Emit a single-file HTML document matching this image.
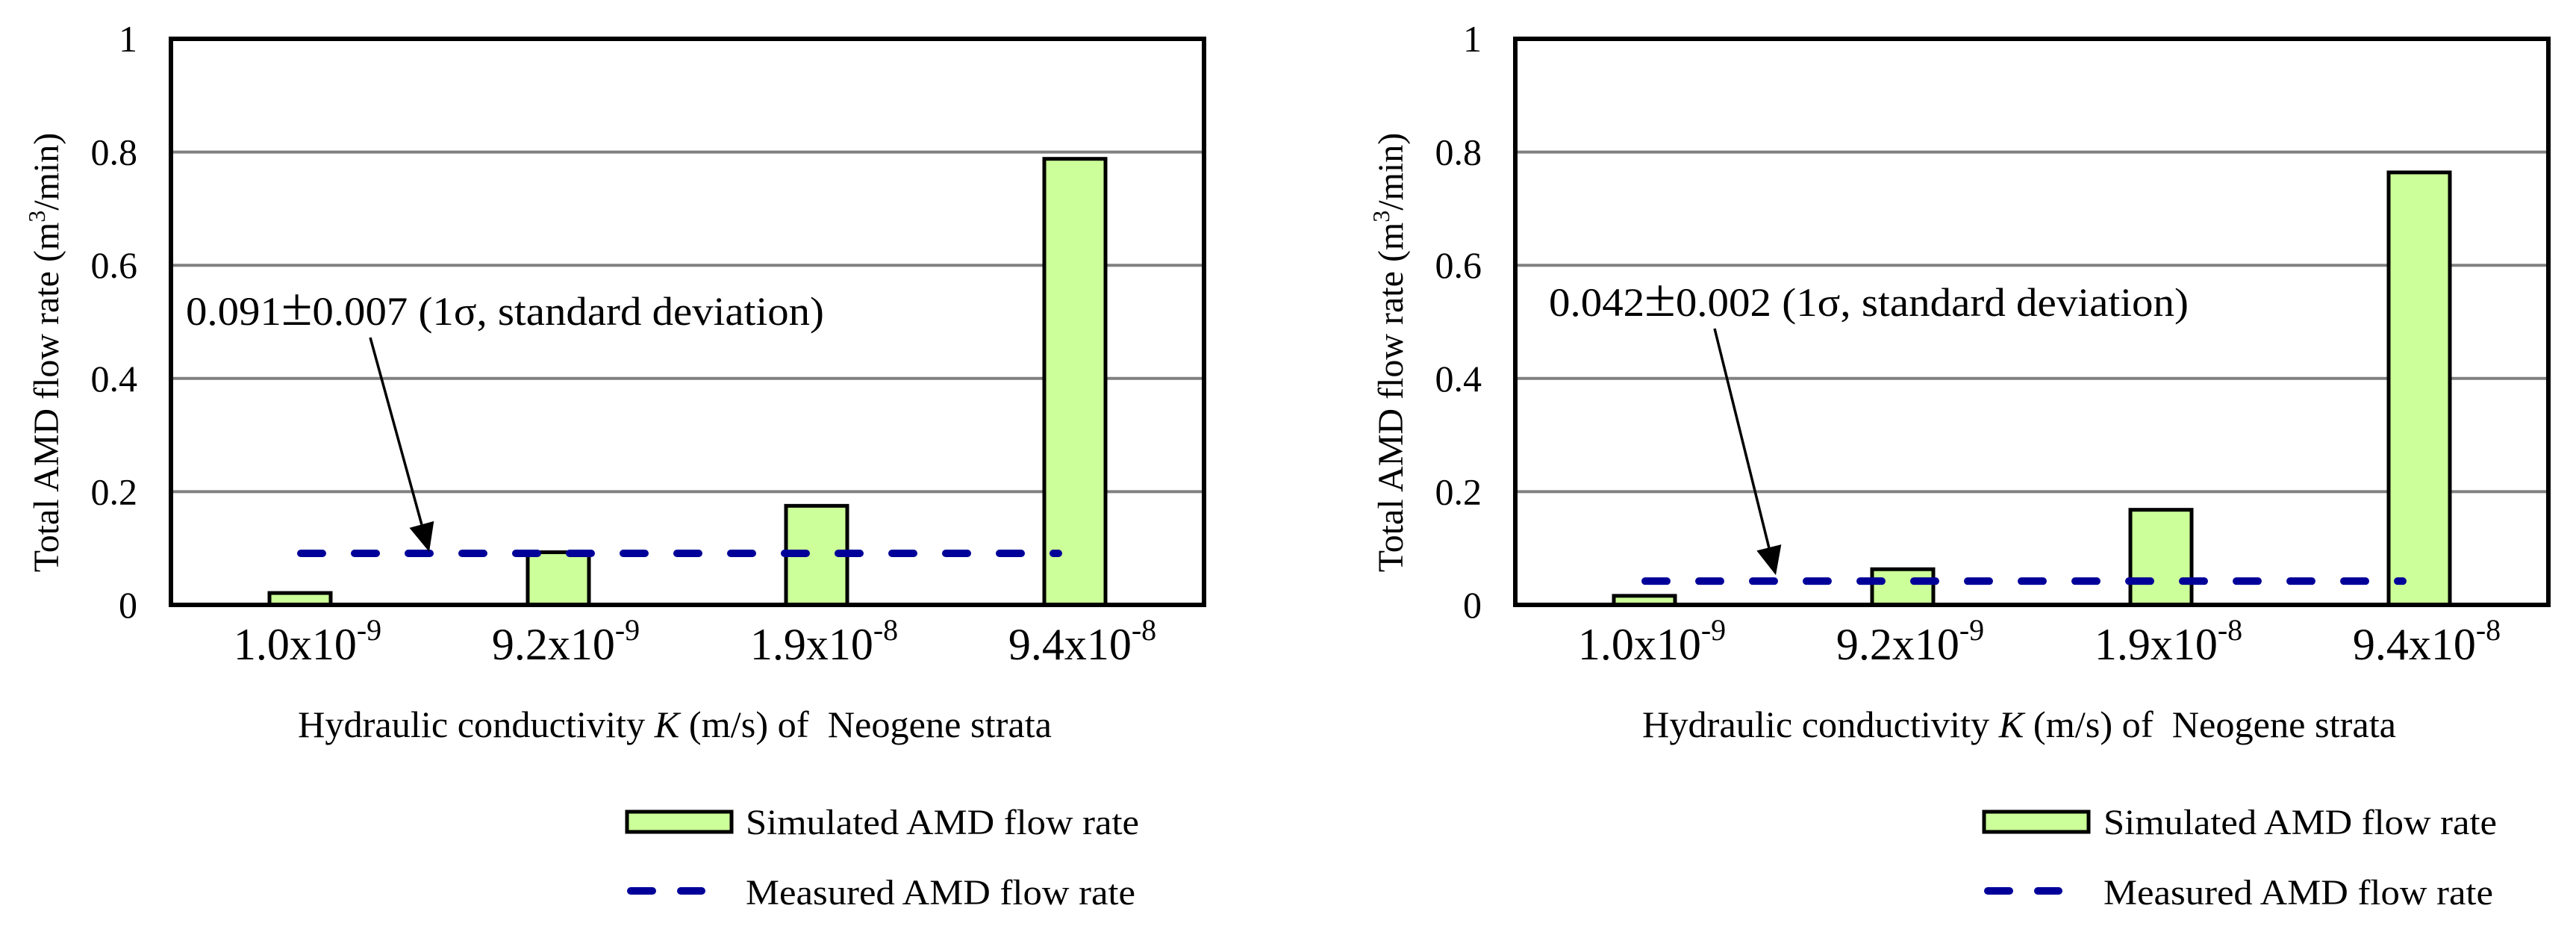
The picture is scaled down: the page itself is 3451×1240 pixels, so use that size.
<!DOCTYPE html>
<html><head><meta charset="utf-8"><style>
html,body{margin:0;padding:0;background:#fff;}
svg{display:block;font-family:"Liberation Serif","Times New Roman",serif;}
</style></head>
<body>
<svg id="fig" width="3451" height="1240" viewBox="0 0 3451 1240" xmlns="http://www.w3.org/2000/svg">
</svg>
<script>
const categories = ["1.0x10", "9.2x10", "1.9x10", "9.4x10"];
const categoryExponents = ["-9", "-9", "-8", "-8"];
const simulatedLeft = [0.021, 0.093, 0.175, 0.788];
const simulatedRight = [0.016, 0.063, 0.168, 0.764];
const measuredLeft = [0.091];
const measuredRight = [0.042];
const annotationLeft = ["0.091", "0.007 (1\u03C3, standard deviation)"];
const annotationRight = ["0.042", "0.002 (1\u03C3, standard deviation)"];
const yTicks = [0, 0.2, 0.4, 0.6, 0.8, 1];
const yTickLabels = ["0", "0.2", "0.4", "0.6", "0.8", "1"];

const NS = "http://www.w3.org/2000/svg";
const svg = document.getElementById("fig");
function mk(tag, attrs, parent) {
  const e = document.createElementNS(NS, tag);
  for (const k in attrs) e.setAttribute(k, attrs[k]);
  (parent || svg).appendChild(e);
  return e;
}

function drawChart(ox, sim, meas, annot, cfg, prefix) {
  const g = mk("g", {transform: "translate(" + ox + ",0)"});
  
  
  const L = 229, R = 1613, T = 52, B = 810;
  const y = v => B - v * (B - T);
  const bw = (R - L) / categories.length;
  const xc = i => L + bw * (i + 0.5);

  yTicks.forEach((t, i) => {
    if (t > 0 && t < 1) {
      const gl = mk("line", {x1: L, x2: R, y1: y(t), y2: y(t), stroke: "#808080", "stroke-width": 4}, g);
      
      
    }
    const tl = mk("text", {x: 184, y: y(t) + 17, "text-anchor": "end", "font-size": 50}, g);
    tl.textContent = yTickLabels[i];
    
    
  });

  sim.forEach((v, i) => {
    const w = 82;
    const r = mk("rect", {x: xc(i) - w / 2, y: y(v), width: w, height: B - y(v), fill: "#ccff99", stroke: "#000", "stroke-width": 5}, g);
    
    
  });

  const fr = mk("rect", {x: L, y: T, width: R - L, height: B - T, fill: "none", stroke: "#000", "stroke-width": 6}, g);
  
  

  const x1 = xc(0) - 4, x2 = xc(3) - 17;
  const ml = mk("line", {x1: x1 + 5, x2: x2 - 5, y1: y(meas[0]), y2: y(meas[0]), stroke: "#000099", "stroke-width": 10, "stroke-linecap": "round", "stroke-dasharray": "29 43"}, g);
  
  

  const tipX = cfg.tipX, tipY = y(meas[0]) - cfg.tipGap;
  const sx = cfg.arrowStartX, sy = cfg.arrowStartY;
  const ang = Math.atan2(tipY - sy, tipX - sx);
  const hl = 38, hw = 17;
  const bx = tipX - hl * Math.cos(ang), by = tipY - hl * Math.sin(ang);
  const al = mk("line", {x1: sx, y1: sy, x2: bx, y2: by, stroke: "#000", "stroke-width": 3.5}, g);
  
  
  const px = -Math.sin(ang), py = Math.cos(ang);
  const ahd = mk("polygon", {points: tipX + "," + tipY + " " + (bx + px * hw) + "," + (by + py * hw) + " " + (bx - px * hw) + "," + (by - py * hw), fill: "#000"}, g);
  
  

  const at = mk("text", {x: cfg.textX, y: cfg.textY, "font-size": 54, textLength: cfg.textW, lengthAdjust: "spacingAndGlyphs"}, g);
  
  
  let a1 = mk("tspan", {}, at); a1.textContent = annot[0];
  let a2 = mk("tspan", {"font-size": 72}, at); a2.textContent = "\u00B1";
  let a3 = mk("tspan", {}, at); a3.textContent = annot[1];

  categories.forEach((c, i) => {
    const t = mk("text", {x: xc(i) + 10, y: 883, "text-anchor": "middle", "font-size": 60}, g);
    
    
    const s1 = mk("tspan", {}, t); s1.textContent = c;
    const s2 = mk("tspan", {dy: -26, "font-size": 40}, t); s2.textContent = categoryExponents[i];
  });

  const xt = mk("text", {x: 399, y: 987, "font-size": 50, textLength: 1010, lengthAdjust: "spacingAndGlyphs"}, g);
  
  
  let s = mk("tspan", {}, xt); s.textContent = "Hydraulic conductivity ";
  s = mk("tspan", {"font-style": "italic"}, xt); s.textContent = "K";
  s = mk("tspan", {}, xt); s.textContent = " (m/s) of \u00A0Neogene strata";

  const yt = mk("text", {x: 0, y: 0, "font-size": 48, "text-anchor": "middle", transform: "translate(" + (cfg.yTitleX) + ",472) rotate(-90)"}, g);
  
  
  s = mk("tspan", {}, yt); s.textContent = "Total AMD flow rate (m";
  s = mk("tspan", {dy: -18, "font-size": 32}, yt); s.textContent = "3";
  s = mk("tspan", {dy: 18}, yt); s.textContent = "/min)";

  const lx = cfg.legendX;
  const lb = mk("rect", {x: lx, y: 1087, width: 140, height: 27, fill: "#ccff99", stroke: "#000", "stroke-width": 5}, g);
  
  
  const lt1 = mk("text", {x: lx + cfg.legendTextDx, y: 1117, "font-size": 48, textLength: 527, lengthAdjust: "spacingAndGlyphs"}, g);
  lt1.textContent = "Simulated AMD flow rate";
  
  
  const ld = mk("line", {x1: lx + 5, x2: lx + 100, y1: 1193, y2: 1193, stroke: "#000099", "stroke-width": 10, "stroke-linecap": "round", "stroke-dasharray": "29 38"}, g);
  
  
  const lt2 = mk("text", {x: lx + cfg.legendTextDx, y: 1211, "font-size": 48, textLength: 522, lengthAdjust: "spacingAndGlyphs"}, g);
  lt2.textContent = "Measured AMD flow rate";
  
  
}

drawChart(0, simulatedLeft, measuredLeft, annotationLeft,
  {tipX: 575, tipGap: 2, arrowStartX: 496, arrowStartY: 452, textX: 249, textY: 435, textW: 855, yTitleX: 78, legendX: 840, legendTextDx: 159}, "left");
drawChart(1801, simulatedRight, measuredRight, annotationRight,
  {tipX: 578, tipGap: 8, arrowStartX: 496, arrowStartY: 440, textX: 274, textY: 423, textW: 857, yTitleX: 78, legendX: 857, legendTextDx: 160}, "right");
</script>
</body></html>
